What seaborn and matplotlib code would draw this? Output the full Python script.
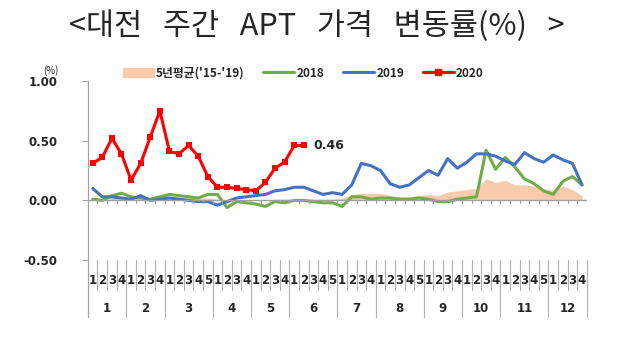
import numpy as np
import matplotlib.pyplot as plt
import matplotlib.transforms as mtransforms
from matplotlib.patches import Patch
from matplotlib.lines import Line2D
import seaborn as sns

# weekly layout of the year
months = [1, 2, 3, 4, 5, 6, 7, 8, 9, 10, 11, 12]
weeks_per_month = [4, 4, 5, 4, 4, 5, 4, 5, 4, 4, 5, 4]

avg_5yr = [0.01, 0.01, 0.02, 0.02, 0.02, 0.02, 0.01, 0.02, 0.02, 0.02, 0.02, 0.02, 0.02,
           0.01, 0.00, 0.00, 0.00, 0.00, 0.00, 0.01, 0.01, 0.01, 0.01, 0.01, 0.01, 0.01,
           0.02, 0.05, 0.06, 0.06, 0.06, 0.04, 0.03, 0.03, 0.04, 0.05, 0.04, 0.07, 0.08,
           0.09, 0.10, 0.18, 0.15, 0.17, 0.13, 0.13, 0.12, 0.09, 0.09, 0.12, 0.09, 0.04]
y2018 = [0.01, 0.00, 0.04, 0.06, 0.03, 0.02, 0.01, 0.03, 0.05, 0.04, 0.03, 0.02, 0.05,
         0.05, -0.06, -0.01, -0.02, -0.03, -0.05, -0.01, -0.02, 0.00, 0.00, -0.01, -0.02,
         -0.02, -0.05, 0.03, 0.03, 0.01, 0.02, 0.02, 0.01, 0.01, 0.02, 0.01, -0.01, -0.01,
         0.01, 0.02, 0.03, 0.42, 0.26, 0.36, 0.28, 0.18, 0.14, 0.08, 0.05, 0.16, 0.20, 0.13]
y2019 = [0.10, 0.03, 0.03, 0.02, 0.01, 0.04, 0.00, 0.01, 0.02, 0.01, 0.00, -0.01, -0.01,
         -0.04, -0.01, 0.02, 0.03, 0.04, 0.05, 0.08, 0.09, 0.11, 0.11, 0.08, 0.05, 0.065,
         0.05, 0.13, 0.31, 0.29, 0.25, 0.14, 0.11, 0.13, 0.19, 0.25, 0.21, 0.35, 0.27, 0.32,
         0.39, 0.39, 0.37, 0.33, 0.30, 0.40, 0.35, 0.32, 0.38, 0.34, 0.31, 0.13]
y2020 = [0.31, 0.36, 0.52, 0.39, 0.17, 0.31, 0.53, 0.75, 0.41, 0.39, 0.46, 0.37, 0.20,
         0.11, 0.11, 0.10, 0.09, 0.08, 0.15, 0.27, 0.32, 0.46, 0.46]

sns.set_style('white')
plt.rcParams['font.family'] = ['Noto Sans CJK KR', 'DejaVu Sans']

n_weeks = sum(weeks_per_month)
x_all = np.arange(n_weeks)
week_labels = [w for n in weeks_per_month for w in range(1, n + 1)]
bounds = np.concatenate([[0], np.cumsum(weeks_per_month)]) - 0.5

fig = plt.figure(figsize=(6.19, 3.52), dpi=100)
ax = fig.add_axes([0.142, 0.261, 0.806, 0.509])

ax.fill_between(x_all, 0, avg_5yr, color='#F8CBAD', lw=0)
sns.lineplot(x=x_all, y=y2018, ax=ax, color='#70AD47', lw=2.2)
sns.lineplot(x=x_all, y=y2019, ax=ax, color='#4472C4', lw=2.2)
sns.lineplot(x=np.arange(len(y2020)), y=y2020, ax=ax, color='#FF0000', lw=2.2,
             marker='s', markersize=4.5, markeredgewidth=0)

ax.set_xlim(-0.5, n_weeks - 0.5)
ax.set_ylim(-0.5, 1.0)
ax.set_yticks([-0.5, 0.0, 0.5, 1.0])
ax.set_yticklabels(['-0.50', '0.00', '0.50', '1.00'], fontsize=8.5, fontweight='bold',
                   family=['DejaVu Sans'])
ax.tick_params(axis='y', length=4, color='#A0A0A0', pad=18, left=True)
ax.set_xticks([])
for s in ['top', 'right', 'bottom']:
    ax.spines[s].set_visible(False)
ax.spines['left'].set_color('#A0A0A0')
ax.spines['left'].set_bounds(-0.5, 1.0)

# zero line with week ticks
ax.axhline(0, color='#A0A0A0', lw=1)
for b in np.arange(n_weeks + 1) - 0.5:
    ax.plot([b, b], [0, -0.02], color='#A0A0A0', lw=0.8)

# category table under the axis
trans = mtransforms.blended_transform_factory(ax.transData, ax.transAxes)
for b in np.arange(n_weeks + 1) - 0.5:
    long = b in bounds
    ax.plot([b, b], [0, -0.32 if long else -0.165], color='#B0B0B0', lw=0.8,
            transform=trans, clip_on=False)
ax.plot([-0.5, -0.5], [0, -0.32], color='#A0A0A0', lw=0.8, transform=trans, clip_on=False)
for x, w in zip(x_all, week_labels):
    ax.text(x, -0.115, str(w), transform=trans, ha='center', va='center',
            fontsize=8.5, fontweight='bold', family=['DejaVu Sans'])
for i, m in enumerate(months):
    ax.text((bounds[i] + bounds[i + 1]) / 2, -0.27, str(m), transform=trans,
            ha='center', va='center', fontsize=8.5, fontweight='bold',
            family=['DejaVu Sans'])

ax.text(len(y2020) - 1 + 1.0, y2020[-1], '0.46', ha='left', va='center',
        fontsize=9, fontweight='bold', family=['DejaVu Sans'])
fig.text(0.082, 0.80, '(%)', fontsize=7, ha='center', va='center')

handles = [Patch(color='#F8CBAD'),
           Line2D([], [], color='#70AD47', lw=2.2),
           Line2D([], [], color='#4472C4', lw=2.2),
           Line2D([], [], color='#FF0000', lw=2.2, marker='s', markersize=4.5)]
fig.legend(handles, ["5년평균('15-'19)", '2018', '2019', '2020'], ncol=4,
           loc='center', bbox_to_anchor=(0.49, 0.792), frameon=False,
           prop={'weight': 'bold', 'size': 8.5}, handlelength=2.6,
           handletextpad=0.2, columnspacing=1.6, handleheight=0.8)

fig.text(0.512, 0.925, '<대전   주간   APT   가격   변동률(%)   >', ha='center', va='center',
         fontsize=22, fontweight='light')

fig.savefig('out.png', dpi=100)
